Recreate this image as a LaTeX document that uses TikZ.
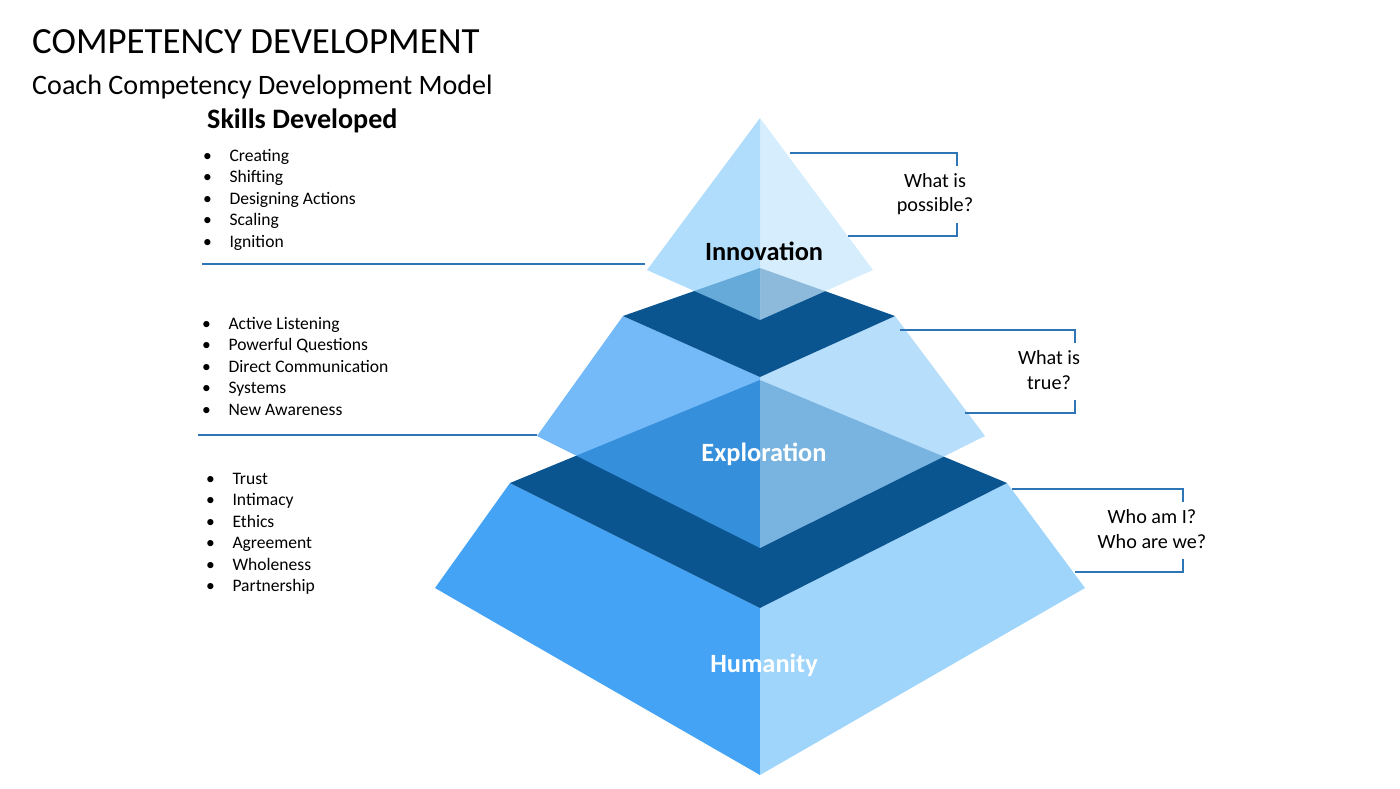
\documentclass[tikz,border=0pt]{standalone}
\usepackage{fontspec}
\setmainfont{Carlito}
\definecolor{darkface}{HTML}{0A5590}
\definecolor{leftface}{HTML}{45A3F5}
\definecolor{rightface}{HTML}{9FD4FB}
\definecolor{topleft}{HTML}{8ECFF9}
\definecolor{topright}{HTML}{C5E6FC}
\definecolor{linkblue}{HTML}{2E75B6}
\tikzset{
  link/.style={draw=linkblue,line width=0.8pt},
  bullets/.style={anchor=north west,font=\fontsize{10}{12.2}\selectfont,align=left},
  question/.style={font=\fontsize{11.5}{14}\selectfont,align=center},
  tier/.style={font=\bfseries\fontsize{15}{18}\selectfont}
}
\begin{document}
\begin{tikzpicture}[x=0.02cm,y=-0.02cm]
  \useasboundingbox (0,0) rectangle (1400,788);
  % humanity
  \fill[leftface] (510,483) -- (435,588) -- (760,775) -- (760,608) -- cycle;
  \fill[rightface] (1007,483) -- (1085,588) -- (760,775) -- (760,608) -- cycle;
  \fill[darkface] (510,483) -- (760,380) -- (1007,483) -- (760,608) -- cycle;
  % exploration
  \begin{scope}[opacity=0.75]
  \fill[leftface] (623,316) -- (537,436) -- (760,548) -- (760,377) -- cycle;
  \fill[rightface] (895,316) -- (985,436) -- (760,548) -- (760,377) -- cycle;
  \end{scope}
  \fill[darkface] (623,316) -- (760,268) -- (895,316) -- (760,377) -- cycle;
  % innovation
  \begin{scope}[opacity=0.7]
  \fill[topleft] (760,118) -- (647,270) -- (760,320) -- cycle;
  \fill[topright] (760,118) -- (873,270) -- (760,320) -- cycle;
  \end{scope}
  \node[tier] (innov) at (764,251) {Innovation};
  \node[tier,white] (explor) at (764,454) {Exploration};
  \node[tier,white] (human) at (764,665) {Humanity};
  % titles
  \node[anchor=west,font=\fontsize{21}{24}\selectfont] (title) at (26,42) {COMPETENCY DEVELOPMENT};
  \node[anchor=west,font=\fontsize{16}{19}\selectfont] (subtitle) at (26,87) {Coach Competency Development Model};
  \node[anchor=west,font=\bfseries\fontsize{16}{19}\selectfont] (skills) at (201,121) {Skills Developed};
  % skill lists
  \node[bullets] (list1) at (197,143) {\textbullet\quad Creating\\ \textbullet\quad Shifting\\ \textbullet\quad Designing Actions\\ \textbullet\quad Scaling\\ \textbullet\quad Ignition};
  \node[bullets] (list2) at (196,311) {\textbullet\quad Active Listening\\ \textbullet\quad Powerful Questions\\ \textbullet\quad Direct Communication\\ \textbullet\quad Systems\\ \textbullet\quad New Awareness};
  \node[bullets] (list3) at (200,467) {\textbullet\quad Trust\\ \textbullet\quad Intimacy\\ \textbullet\quad Ethics\\ \textbullet\quad Agreement\\ \textbullet\quad Wholeness\\ \textbullet\quad Partnership};
  % left rules
  \coordinate (l1a) at (202,264); \coordinate (l1b) at (645,264);
  \coordinate (l2a) at (198,435); \coordinate (l2b) at (537,435);
  \draw[link] (l1a) -- (l1b);
  \draw[link] (l2a) -- (l2b);
  % questions
  \node[question] (q1) at (935,194) {What is\\possible?};
  \node[question] (q2) at (1049,370) {What is\\true?};
  \node[question] (q3) at (1152,529) {Who am I?\\Who are we?};
  \coordinate (r1a) at (790,153); \coordinate (r1b) at (848,236);
  \coordinate (r2a) at (900,330); \coordinate (r2b) at (965,413);
  \coordinate (r3a) at (1012,489); \coordinate (r3b) at (1075,572);
  \draw[link] (r1a) -- (957,153) -- ++(0,13);
  \draw[link] (r1b) -- (957,236) -- ++(0,-13);
  \draw[link] (r2a) -- (1075,330) -- ++(0,13);
  \draw[link] (r2b) -- (1075,413) -- ++(0,-13);
  \draw[link] (r3a) -- (1183,489) -- ++(0,13);
  \draw[link] (r3b) -- (1183,572) -- ++(0,-13);
\end{tikzpicture}
\end{document}
